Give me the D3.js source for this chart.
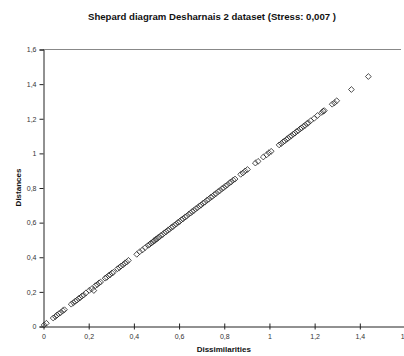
<!DOCTYPE html>
<html>
<head>
<meta charset="utf-8">
<script src="https://cdn.jsdelivr.net/npm/d3@7"></script>
<style>
  html, body { margin: 0; padding: 0; background: #fff; }
  svg { display: block; font-family: "Liberation Sans", Arial, sans-serif; }
</style>
</head>
<body>
<div id="chart"></div>
<script>
const title = "Shepard diagram Desharnais 2 dataset (Stress: 0,007 )"
const xTitle = "Dissimilarities"
const yTitle = "Distances"
const tickValues = [0, 0.2, 0.4, 0.6, 0.8, 1, 1.2, 1.4, 1.6]
const tickLabels = ["0", "0,2", "0,4", "0,6", "0,8", "1", "1,2", "1,4", "1,6"]

// dissimilarities (x) and matching fitted distances (y)
const dissimilarities = [
  0.005, 0.015,
  0.045, 0.055, 0.062, 0.07, 0.078, 0.088, 0.095,
  0.125, 0.135, 0.142, 0.15, 0.158, 0.165, 0.172, 0.18, 0.19,
  0.205, 0.215, 0.225, 0.232, 0.24, 0.248, 0.255,
  0.275, 0.282, 0.29, 0.297, 0.305, 0.312,
  0.33, 0.338, 0.345, 0.355, 0.362, 0.37, 0.378,
  0.415, 0.428, 0.44, 0.452,
  0.465, 0.472, 0.478, 0.485, 0.49, 0.495, 0.5, 0.505, 0.51, 0.515, 0.522, 0.53,
  0.537, 0.545, 0.552, 0.56, 0.568, 0.575, 0.582, 0.59, 0.598, 0.605, 0.612, 0.62,
  0.628, 0.636, 0.645, 0.653, 0.66, 0.668, 0.676, 0.685, 0.693, 0.7, 0.708, 0.716,
  0.725, 0.733, 0.742, 0.75, 0.758, 0.766, 0.775, 0.783, 0.792, 0.8, 0.808, 0.816,
  0.825, 0.833, 0.842, 0.85,
  0.875, 0.885, 0.895, 0.905,
  0.94, 0.952, 0.975, 0.99, 1.0, 1.01,
  1.045, 1.055, 1.063, 1.07, 1.078, 1.085, 1.092, 1.1, 1.108, 1.115, 1.122, 1.13,
  1.138, 1.145, 1.152, 1.16, 1.168, 1.175, 1.185, 1.2, 1.215, 1.235, 1.24, 1.245,
  1.28, 1.29, 1.3, 1.365, 1.44
]
const distances = [
  0.006, 0.016,
  0.046, 0.054, 0.063, 0.071, 0.077, 0.089, 0.094,
  0.126, 0.134, 0.143, 0.149, 0.159, 0.164, 0.173, 0.179, 0.191,
  0.206, 0.214, 0.205, 0.233, 0.239, 0.249, 0.254,
  0.276, 0.281, 0.291, 0.296, 0.306, 0.311,
  0.331, 0.337, 0.346, 0.354, 0.363, 0.369, 0.379,
  0.414, 0.429, 0.439, 0.453,
  0.466, 0.471, 0.479, 0.484, 0.491, 0.494, 0.501, 0.504, 0.511, 0.514, 0.523, 0.529,
  0.538, 0.544, 0.553, 0.559, 0.569, 0.574, 0.583, 0.589, 0.599, 0.604, 0.613, 0.619,
  0.629, 0.635, 0.646, 0.652, 0.661, 0.667, 0.677, 0.684, 0.694, 0.699, 0.709, 0.715,
  0.726, 0.732, 0.743, 0.749, 0.759, 0.765, 0.776, 0.782, 0.793, 0.799, 0.809, 0.815,
  0.826, 0.832, 0.843, 0.849,
  0.876, 0.884, 0.896, 0.904,
  0.941, 0.951, 0.976, 0.989, 1.001, 1.009,
  1.046, 1.054, 1.064, 1.069, 1.079, 1.084, 1.093, 1.099, 1.109, 1.114, 1.123, 1.129,
  1.139, 1.144, 1.153, 1.159, 1.169, 1.174, 1.186, 1.199, 1.216, 1.234, 1.241, 1.244,
  1.281, 1.289, 1.301, 1.366, 1.441
]

const width = 404
const height = 356
const margin = {top: 49, right: 0, bottom: 30, left: 43}

const svg = d3.select("#chart").append("svg")
    .attr("width", width)
    .attr("height", height)

svg.append("rect")
    .attr("width", width)
    .attr("height", height)
    .attr("fill", "#fff")

const x = d3.scaleLinear()
    .domain([0, 1.6])
    .range([margin.left, 404.5])
const y = d3.scaleLinear()
    .domain([0, 1.6])
    .range([326, margin.top])

// title
svg.append("text")
    .attr("x", 212)
    .attr("y", 20)
    .attr("text-anchor", "middle")
    .attr("font-size", 9.6)
    .attr("font-weight", "bold")
    .attr("fill", "#111")
    .text(title)

// top border line at the maximum
svg.append("line")
    .attr("x1", x(0)).attr("x2", 401)
    .attr("y1", y(1.6) + 0.5).attr("y2", y(1.6) + 0.5)
    .attr("stroke", "#888")
    .attr("stroke-width", 1)

// y axis
const yAxis = svg.append("g")
    .attr("transform", `translate(${x(0) + 0.5},0.5)`)
    .call(d3.axisLeft(y)
      .tickValues(tickValues)
      .tickFormat((d, i) => tickLabels[i])
      .tickSize(4)
      .tickPadding(3))
yAxis.select(".domain").attr("stroke", "#222")
yAxis.selectAll(".tick line").attr("stroke", "#222")
yAxis.selectAll(".tick text")
    .attr("font-size", 7)
    .attr("font-family", "Liberation Sans, Arial, sans-serif")
    .attr("fill", "#333")

// x axis
const xAxis = svg.append("g")
    .attr("transform", `translate(0.5,${y(0) + 0.5})`)
    .call(d3.axisBottom(x)
      .tickValues(tickValues)
      .tickFormat((d, i) => tickLabels[i])
      .tickSizeInner(3)
      .tickSizeOuter(0)
      .tickPadding(5))
xAxis.select(".domain").attr("stroke", "#222")
xAxis.selectAll(".tick line").attr("stroke", "#222").attr("y1", -3)
xAxis.selectAll(".tick text")
    .attr("font-size", 7)
    .attr("font-family", "Liberation Sans, Arial, sans-serif")
    .attr("fill", "#333")

// axis titles
svg.append("text")
    .attr("x", x(0.8))
    .attr("y", 352)
    .attr("text-anchor", "middle")
    .attr("font-size", 8)
    .attr("font-weight", "bold")
    .attr("fill", "#111")
    .text(xTitle)

svg.append("text")
    .attr("transform", `translate(21,${y(0.8)}) rotate(-90)`)
    .attr("text-anchor", "middle")
    .attr("font-size", 8)
    .attr("font-weight", "bold")
    .attr("fill", "#111")
    .text(yTitle)

// diamond markers
const r = 2.9
const points = dissimilarities.map((d, i) => [d, distances[i]])
svg.append("g")
  .selectAll("path")
  .data(points)
  .join("path")
    .attr("transform", d => `translate(${x(d[0])},${y(d[1])})`)
    .attr("d", `M0,${-r}L${r},0L0,${r}L${-r},0Z`)
    .attr("fill", "#fff")
    .attr("fill-opacity", 0.2)
    .attr("stroke", "#222")
    .attr("stroke-width", 0.8)
</script>
</body>
</html>
